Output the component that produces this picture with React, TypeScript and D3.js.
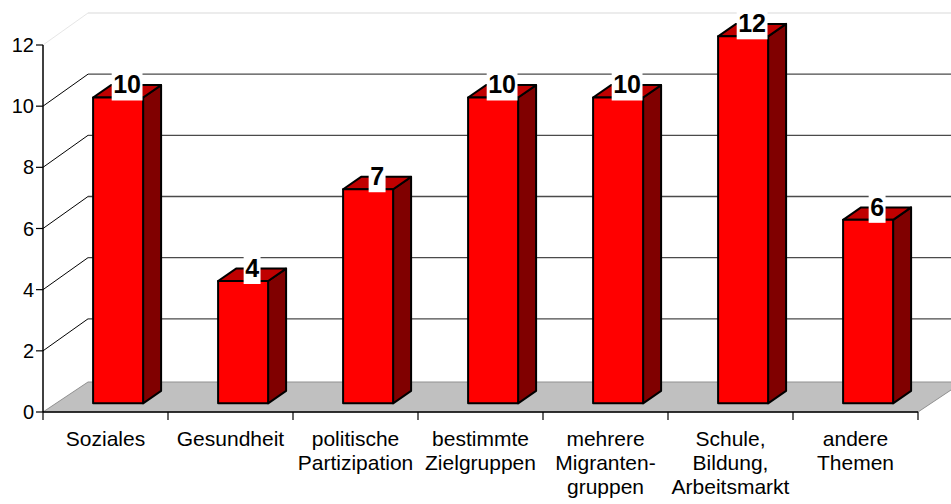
import React from 'react';
import * as d3 from 'd3';

const categories = [
  ['Soziales'],
  ['Gesundheit'],
  ['politische', 'Partizipation'],
  ['bestimmte', 'Zielgruppen'],
  ['mehrere', 'Migranten-', 'gruppen'],
  ['Schule,', 'Bildung,', 'Arbeitsmarkt'],
  ['andere', 'Themen'],
];
const values = [10, 4, 7, 10, 10, 12, 6];
const yTicks = [0, 2, 4, 6, 8, 10, 12];

const W = 951;
const H = 504;
const font = "'Liberation Sans', Arial, sans-serif";

// 3D depth of the plot (back wall offset)
const DX = 45;
const DY = -31;
const f0 = 0.28; // bar front face depth fraction
const f1 = 0.68; // bar back face depth fraction

export default function App() {
  const x = d3
    .scaleBand<number>()
    .domain(d3.range(categories.length))
    .range([43, 918])
    .padding(0);
  const y = d3.scaleLinear().domain([0, 12]).range([412, 45]);

  const bw = x.bandwidth();
  const barW = bw * 0.4;
  const ddx = (f1 - f0) * DX;
  const ddy = (f1 - f0) * DY;

  return (
    <svg
      width={W}
      height={H}
      style={{ position: 'absolute', left: 0, top: 0, background: '#fff' }}
      fontFamily={font}
    >
      {/* gridlines */}
      {yTicks
        .filter((t) => t > 0)
        .map((t) => {
          const c = t === 12 ? '#e6e6e6' : undefined;
          return (
            <g key={t}>
              <line
                x1={43}
                y1={y(t)}
                x2={43 + DX}
                y2={y(t) + DY - 1}
                stroke={c || '#000'}
                strokeWidth={1}
              />
              <line
                x1={43 + DX}
                y1={y(t) + DY - 1}
                x2={W}
                y2={y(t) + DY - 1}
                stroke={c || '#4a4a4a'}
                strokeWidth={1.3}
              />
            </g>
          );
        })}

      {/* floor */}
      <polygon
        points={[
          [43, y(0)],
          [918, y(0)],
          [918 + DX, y(0) + DY + 1],
          [43 + DX, y(0) + DY + 1],
        ]
          .map((p) => p.join(','))
          .join(' ')}
        fill="#c0c0c0"
        stroke="#909090"
        strokeWidth={1}
      />

      {/* y axis */}
      <line x1={43} y1={y(12)} x2={43} y2={y(0)} stroke="#000" strokeWidth={1.5} />
      {yTicks.map((t) => (
        <g key={t}>
          <line x1={36} y1={y(t)} x2={43} y2={y(t)} stroke="#000" strokeWidth={1.2} />
          <text x={34} y={y(t) + 7} textAnchor="end" fontSize={20} fill="#000">
            {t}
          </text>
        </g>
      ))}

      {/* x axis */}
      <line x1={43} y1={y(0)} x2={918} y2={y(0)} stroke="#000" strokeWidth={1.5} />
      {d3.range(categories.length + 1).map((i) => {
        const xx = 43 + i * bw;
        return <line key={i} x1={xx} y1={y(0)} x2={xx} y2={y(0) + 8} stroke="#000" strokeWidth={1.2} />;
      })}
      {categories.map((lines, i) => (
        <text
          key={i}
          x={(x(i) as number) + bw / 2}
          textAnchor="middle"
          fontSize={21}
          fill="#000"
        >
          {lines.map((l, j) => (
            <tspan key={j} x={(x(i) as number) + bw / 2} y={446 + j * 24}>
              {l}
            </tspan>
          ))}
        </text>
      ))}

      {/* bars */}
      {values.map((v, i) => {
        const x0 = (x(i) as number) + (bw - barW) / 2 + f0 * DX;
        const x1 = x0 + barW;
        const yt = y(v) + f0 * DY;
        const yb = y(0) + f0 * DY;
        const front = `M${x0},${yt}L${x1},${yt}L${x1},${yb}L${x0},${yb}Z`;
        const top = `M${x0},${yt}L${x0 + ddx},${yt + ddy}L${x1 + ddx},${yt + ddy}L${x1},${yt}Z`;
        const side = `M${x1},${yt}L${x1 + ddx},${yt + ddy}L${x1 + ddx},${yb + ddy}L${x1},${yb}Z`;
        const label = String(v);
        const tw = label.length * 13.9;
        const cx = x0 + barW / 2 + ddx / 2;
        const base = yt - 4;
        return (
          <g key={i}>
            <path d={side} fill="#800000" stroke="#000" strokeWidth={2} strokeLinejoin="round" />
            <path d={top} fill="#c00000" stroke="#000" strokeWidth={2} strokeLinejoin="round" />
            <path d={front} fill="#ff0000" stroke="#000" strokeWidth={2} strokeLinejoin="round" />
            <rect x={cx - tw / 2 - 1.5} y={base - 21} width={tw + 3} height={28} fill="#fff" />
            <text x={cx} y={base} textAnchor="middle" fontSize={25} fontWeight="bold" fill="#000">
              {label}
            </text>
          </g>
        );
      })}
    </svg>
  );
}
